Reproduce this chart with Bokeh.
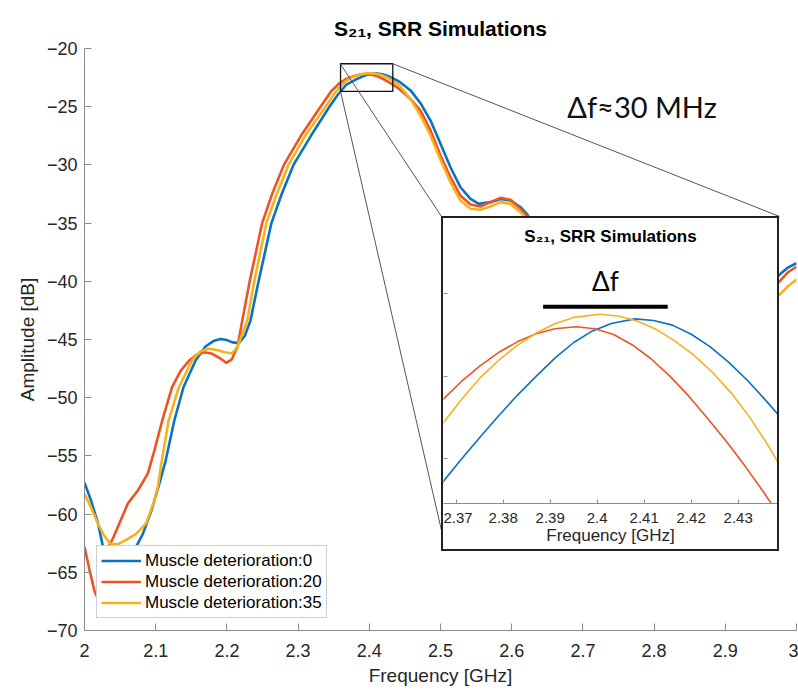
from bokeh.plotting import figure
from bokeh.models import (Range1d, FixedTicker, LinearAxis, Legend, LegendItem, Label,
                          CustomLabelingPolicy)
from bokeh.layouts import column
from bokeh.embed import file_html
from bokeh.resources import INLINE

# ---------------- data ----------------
series_names = ["Muscle deterioration:0", "Muscle deterioration:20", "Muscle deterioration:35"]
series_colors = ["#0A72C0", "#EE5422", "#F6B21C"]

freq_md0 = [2.000, 2.009, 2.019, 2.027, 2.036, 2.048, 2.060, 2.070, 2.082, 2.094, 2.105, 2.114,
            2.126, 2.139, 2.156, 2.170, 2.182, 2.191, 2.200, 2.208, 2.217, 2.225, 2.233, 2.2445,
            2.2625, 2.277, 2.2935, 2.318, 2.344, 2.356,
            2.3673, 2.3710, 2.3750, 2.3790, 2.3830, 2.3870, 2.3910, 2.3950, 2.3990, 2.4030,
            2.4080, 2.4120, 2.4160, 2.4200, 2.4240, 2.4280, 2.4320, 2.4360, 2.4395,
            2.4438, 2.458, 2.4719, 2.486, 2.500, 2.514, 2.528, 2.5421, 2.5538, 2.5702, 2.5843,
            2.5983, 2.6124, 2.6218, 2.65, 2.70, 2.75, 2.80, 2.85, 2.90, 2.95, 2.9775, 2.9885, 3.000]
amp_md0 = [-57.3, -58.8, -60.8, -63.1, -65.0, -65.8, -64.8, -63.1, -61.7, -59.7, -57.4, -55.4,
           -52.0, -49.1, -46.8, -45.6, -45.1, -44.95, -45.05, -45.25, -45.3, -44.7, -43.4, -40.0,
           -35.0, -32.5, -30.0, -27.5, -25.0, -23.95,
           -23.135, -23.005, -22.87, -22.74, -22.615, -22.50, -22.39, -22.295, -22.225, -22.18,
           -22.152, -22.162, -22.19, -22.245, -22.32, -22.415, -22.525, -22.65, -22.765,
           -22.92, -23.6, -24.7, -26.19, -28.19, -30.2, -31.92, -32.92, -33.35, -33.2, -32.92,
           -33.06, -33.63, -34.26, -37.2, -41.8, -44.6, -45.6, -45.2, -43.6, -41.0, -39.36, -38.8,
           -38.45]

freq_md20 = [2.000, 2.007, 2.014, 2.019, 2.025, 2.031, 2.0398, 2.0468, 2.0608, 2.0749, 2.0889,
             2.0983, 2.109, 2.123, 2.135, 2.147, 2.158, 2.168, 2.178, 2.190, 2.199, 2.207, 2.215,
             2.2215, 2.232, 2.2495, 2.2635, 2.280, 2.304, 2.3315, 2.346, 2.358,
             2.3673, 2.3710, 2.3750, 2.3790, 2.3830, 2.3870, 2.3910, 2.3955, 2.3995, 2.4035,
             2.4075, 2.4115, 2.4155, 2.4195, 2.4235, 2.4275, 2.4315, 2.4355, 2.4395,
             2.4438, 2.458, 2.4719, 2.486, 2.500, 2.514, 2.528, 2.5421, 2.5562, 2.5702, 2.5843,
             2.5983, 2.6124, 2.6194, 2.65, 2.70, 2.75, 2.80, 2.85, 2.90, 2.95, 2.9775, 2.9885,
             3.000]
amp_md20 = [-62.8, -64.8, -66.6, -67.3, -65.8, -63.1, -62.1, -61.1, -59.1, -57.97, -56.53,
            -54.5, -52.0, -49.1, -47.7, -46.8, -46.3, -46.1, -46.2, -46.6, -47.0, -46.7, -45.6,
            -43.4, -40.0, -35.0, -32.5, -30.0, -27.5, -25.0, -23.71, -22.985,
            -22.636, -22.534, -22.438, -22.356, -22.291, -22.242, -22.212, -22.200, -22.212,
            -22.247, -22.31, -22.395, -22.50, -22.62, -22.755, -22.895, -23.045, -23.205, -23.375,
            -23.57, -24.35, -25.33, -27.04, -29.19, -31.06, -32.63, -33.4, -33.57, -33.2, -32.83,
            -33.0, -33.77, -34.26, -37.5, -42.2, -45.0, -46.0, -45.6, -44.0, -41.5, -39.93, -39.2,
            -38.75]

freq_md35 = [2.000, 2.009, 2.0187, 2.028, 2.0365, 2.046, 2.056, 2.0726, 2.0866, 2.0983, 2.1035,
             2.1075, 2.118, 2.1325, 2.151, 2.163, 2.1746, 2.186, 2.197, 2.2074, 2.215, 2.2285,
             2.2385, 2.2555, 2.270, 2.2865, 2.310, 2.3385, 2.350, 2.359,
             2.3673, 2.3710, 2.3750, 2.3790, 2.3830, 2.3870, 2.3910, 2.3950, 2.4005, 2.4045,
             2.4085, 2.4125, 2.4165, 2.4205, 2.4245, 2.4285, 2.4325, 2.4365, 2.4395,
             2.4438, 2.458, 2.4719, 2.486, 2.500, 2.514, 2.528, 2.5421, 2.5562, 2.5702, 2.5843,
             2.5983, 2.6124, 2.617, 2.65, 2.70, 2.75, 2.80, 2.85, 2.90, 2.95, 2.9775, 2.9885, 3.000]
amp_md35 = [-58.26, -59.4, -60.8, -61.9, -62.55, -62.6, -62.3, -61.7, -60.8, -58.8, -57.5, -55.8,
            -52.0, -49.1, -46.8, -46.0, -45.8, -45.9, -46.1, -46.2, -45.6, -43.4, -40.0, -35.0,
            -32.5, -30.0, -27.5, -25.0, -23.95, -23.27,
            -22.78, -22.645, -22.511, -22.404, -22.312, -22.238, -22.181, -22.143, -22.124,
            -22.135, -22.165, -22.215, -22.285, -22.37, -22.475, -22.60, -22.75, -22.925, -23.07,
            -23.285, -24.35, -25.76, -27.47, -29.56, -31.49, -33.06, -33.77, -33.86, -33.57, -33.2,
            -33.35, -34.06, -34.35, -37.8, -42.8, -45.8, -46.8, -46.5, -45.0, -42.6, -41.07, -40.4,
            -39.85]

x_ticks = [2.0, 2.1, 2.2, 2.3, 2.4, 2.5, 2.6, 2.7, 2.8, 2.9, 3.0]
x_tick_labels = ["2", "2.1", "2.2", "2.3", "2.4", "2.5", "2.6", "2.7", "2.8", "2.9", "3"]
y_ticks = [-70, -65, -60, -55, -50, -45, -40, -35, -30, -25, -20]
y_tick_labels = ["\u221270", "\u221265", "\u221260", "\u221255", "\u221250", "\u221245",
                 "\u221240", "\u221235", "\u221230", "\u221225", "\u221220"]

inset_x_ticks = [2.37, 2.38, 2.39, 2.40, 2.41, 2.42, 2.43]
inset_x_tick_labels = ["2.37", "2.38", "2.39", "2.4", "2.41", "2.42", "2.43"]
inset_y_ticks = [-23.0, -22.5, -22.0]
inset_x_range = (2.3673, 2.43836)
inset_y_range = (-23.270, -21.744)

# zoom box (main data coords) and connector lines
zoom_box = dict(left=[2.3596], right=[2.433], bottom=[-23.69], top=[-21.31])
conn_x0 = [2.3596, 2.3596, 2.433]
conn_y0 = [-21.35, -23.69, -21.31]
conn_x1 = [2.5014, 2.5014, 2.9761]
conn_y1 = [-34.43, -61.4, -34.43]

# delta-f bar in inset data coords
delta_bar_x = [2.3885, 2.4150]
delta_bar_y = [-22.079, -22.079]

FONT = "Liberation Sans"
AX_COL = "#8c8c8c"
TXT_COL = "#262626"

# ---------------- main figure ----------------
p = figure(width=798, height=690, x_range=Range1d(2, 3), y_range=Range1d(-70, -20),
           output_backend="svg", toolbar_location=None,
           min_border_left=84, min_border_right=2, min_border_top=48, min_border_bottom=60)
p.outline_line_color = None
p.grid.visible = False
p.background_fill_color = "white"
p.border_fill_color = "white"

p.title.text = "S\u2082\u2081, SRR Simulations"
p.title.align = "center"
p.title.text_font = FONT
p.title.text_font_size = "21px"
p.title.text_font_style = "bold"
p.title.text_color = "#000000"
p.title.standoff = 18

p.xaxis.ticker = FixedTicker(ticks=x_ticks, minor_ticks=[])
p.xaxis.major_label_overrides = dict(zip(x_ticks, x_tick_labels))
p.yaxis.ticker = FixedTicker(ticks=y_ticks, minor_ticks=[])
p.yaxis.major_label_overrides = dict(zip(y_ticks, y_tick_labels))
p.xaxis.axis_label = "Frequency [GHz]"
p.yaxis.axis_label = "Amplitude [dB]"
for ax in (p.xaxis, p.yaxis):
    ax.axis_line_color = AX_COL
    ax.major_tick_line_color = AX_COL
    ax.major_tick_in = 7
    ax.major_tick_out = 0
    ax.minor_tick_line_color = None
    ax.major_label_text_font = FONT
    ax.major_label_text_font_size = "18px"
    ax.major_label_text_color = TXT_COL
    ax.axis_label_text_font = FONT
    ax.axis_label_text_font_style = "normal"
    ax.axis_label_text_color = TXT_COL
p.xaxis.major_label_standoff = 13
p.xaxis.axis_label_text_font_size = "19px"
p.xaxis.axis_label_standoff = 5
p.yaxis.major_label_standoff = 7
p.yaxis.axis_label_text_font_size = "19px"
p.yaxis.axis_label_standoff = 6

series = [(freq_md0, amp_md0), (freq_md20, amp_md20), (freq_md35, amp_md35)]
renderers = []
for (fx, fy), col in zip(series, series_colors):
    r = p.line(fx, fy, line_color=col, line_width=2.6, line_join="round")
    renderers.append(r)

p.quad(**zoom_box, fill_color=None, line_color="#111111", line_width=1.3)
p.segment(x0=conn_x0, y0=conn_y0, x1=conn_x1, y1=conn_y1, line_color="#555555", line_width=1)

p.add_layout(Label(x=2.678, y=-25.0, text="\u0394f\u224830 MHz", text_font="Lato",
                   text_font_size="29px", text_color="#111111", text_baseline="alphabetic"))

legend = Legend(items=[LegendItem(label=n, renderers=[r]) for n, r in zip(series_names, renderers)],
                location=(12, 12), border_line_color="#a0a0a0", border_line_width=1,
                background_fill_color="white", background_fill_alpha=1.0,
                label_text_font=FONT, label_text_font_size="17px", label_text_color="#000000",
                glyph_width=40, glyph_height=21, label_height=21, label_standoff=4,
                spacing=0, padding=4, margin=0)
p.add_layout(legend)

# ---------------- inset figure ----------------
q = figure(width=334, height=331, x_range=Range1d(*inset_x_range), y_range=Range1d(*inset_y_range),
           output_backend="svg", toolbar_location=None, y_axis_location=None,
           min_border_left=0, min_border_right=0, min_border_top=27, min_border_bottom=46)
q.outline_line_color = None
q.grid.visible = False
q.background_fill_color = "white"
q.border_fill_color = "white"
q.title.text = "S\u2082\u2081, SRR Simulations"
q.title.align = "center"
q.title.text_font = FONT
q.title.text_font_size = "17px"
q.title.text_font_style = "bold"
q.title.text_color = "#000000"
q.title.standoff = 12

q.xaxis.ticker = FixedTicker(ticks=inset_x_ticks, minor_ticks=[])
q.xaxis.major_label_overrides = dict(zip(inset_x_ticks, inset_x_tick_labels))
q.xaxis.axis_label = "Frequency [GHz]"
q.xaxis.axis_line_color = AX_COL
q.xaxis.major_tick_line_color = AX_COL
q.xaxis.major_tick_in = 4
q.xaxis.major_tick_out = 0
q.xaxis.minor_tick_line_color = None
q.xaxis.major_label_text_font = FONT
q.xaxis.major_label_text_font_size = "15px"
q.xaxis.major_label_text_color = TXT_COL
q.xaxis.major_label_standoff = 9
q.xaxis.axis_label_text_font = FONT
q.xaxis.axis_label_text_font_size = "17px"
q.xaxis.axis_label_text_font_style = "normal"
q.xaxis.axis_label_text_color = TXT_COL
q.xaxis.axis_label_standoff = 0

yax = LinearAxis(fixed_location=inset_x_range[0], ticker=FixedTicker(ticks=inset_y_ticks, minor_ticks=[]),
                 axis_line_color=None, major_tick_line_color=AX_COL, major_tick_in=4, major_tick_out=0,
                 minor_tick_line_color=None, major_label_standoff=0,
                 major_label_policy=CustomLabelingPolicy(code="for (const i of indices) indices.unset(i)"))
q.add_layout(yax, "left")

for (fx, fy), col in zip(series, series_colors):
    q.line(fx, fy, line_color=col, line_width=1.6, line_join="round")

q.line(delta_bar_x, delta_bar_y, line_color="#000000", line_width=4)
q.add_layout(Label(x=sum(delta_bar_x) / 2, y=-21.921, text="\u0394f", text_font="Lato",
                   text_font_size="26px", text_color="#000000", text_align="center",
                   text_baseline="alphabetic"))

for fig in (p, q):
    if "frame_align" in fig.properties():
        fig.frame_align = False

inset_box = column(q, styles={"border": "2px solid #222222", "background-color": "white"},
                   margin=(-474, 0, 0, 441))

layout = column(p, inset_box)
open("out.html", "w").write(file_html(layout, INLINE))
